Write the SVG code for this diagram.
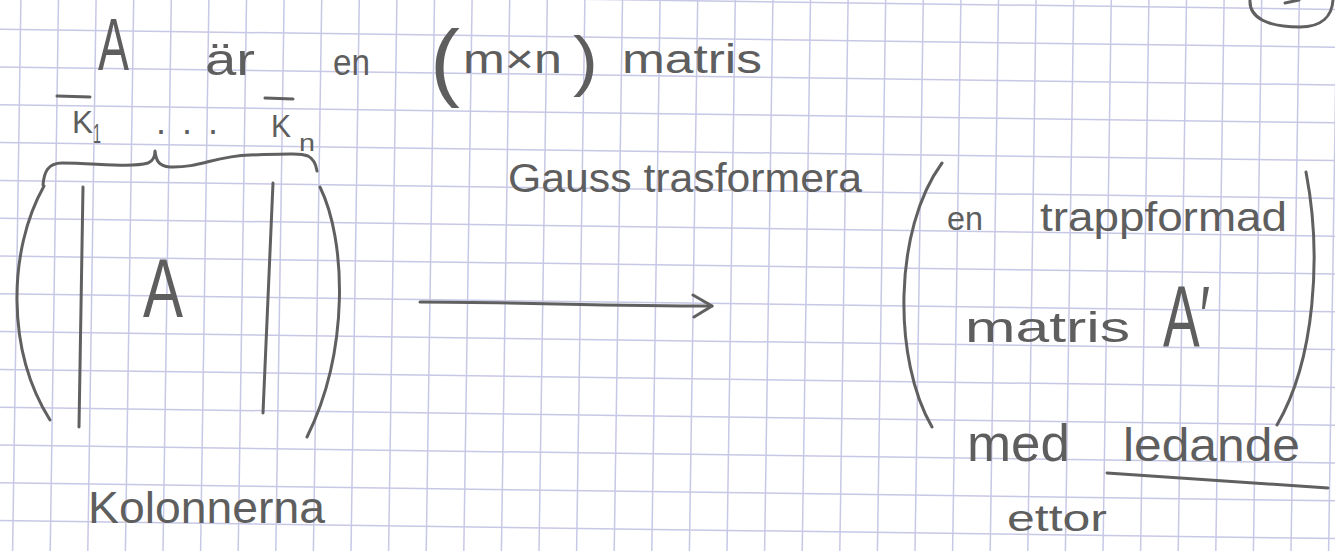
<svg xmlns="http://www.w3.org/2000/svg" width="1335" height="551" viewBox="0 0 1335 551">
<style>
.grid{fill:none;stroke:#c7c8e6;stroke-width:1.5}
.pen{fill:none;stroke:#606060;stroke-width:3;stroke-linecap:round;stroke-linejoin:round}
.hw{font-family:"Liberation Sans",Arial,sans-serif;fill:#5e5e5e}
</style>
<defs>
<marker id="chev" markerUnits="userSpaceOnUse" markerWidth="26" markerHeight="28" refX="22" refY="13" orient="auto">
<path d="M3,2 L22,13 L4,24" fill="none" stroke="#606060" stroke-width="3" stroke-linecap="round" stroke-linejoin="round"/>
</marker>
</defs>
<rect width="1335" height="551" fill="#ffffff"/>
<g id="grid">
<path class="grid" d="M20.9,0 l-8.3,551 m45.9,-551 l-8.3,551 m45.9,-551 l-8.3,551 m45.9,-551 l-8.3,551 m45.9,-551 l-8.3,551 m45.9,-551 l-8.3,551 m45.9,-551 l-8.3,551 m45.9,-551 l-8.3,551 m45.9,-551 l-8.3,551 m45.9,-551 l-8.3,551 m45.9,-551 l-8.3,551 m45.9,-551 l-8.3,551 m45.9,-551 l-8.3,551 m45.9,-551 l-8.3,551 m45.9,-551 l-8.3,551 m45.9,-551 l-8.3,551 m45.9,-551 l-8.3,551 m45.9,-551 l-8.3,551 m45.9,-551 l-8.3,551 m45.9,-551 l-8.3,551 m45.9,-551 l-8.3,551 m45.9,-551 l-8.3,551 m45.9,-551 l-8.3,551 m45.9,-551 l-8.3,551 m45.9,-551 l-8.3,551 m45.9,-551 l-8.3,551 m45.9,-551 l-8.3,551 m45.9,-551 l-8.3,551 m45.9,-551 l-8.3,551 m45.9,-551 l-8.3,551 m45.9,-551 l-8.3,551 m45.9,-551 l-8.3,551 m45.9,-551 l-8.3,551 m45.9,-551 l-8.3,551 m45.9,-551 l-8.3,551 m45.9,-551 l-8.3,551"/>
<path class="grid" d="M0,-8.6 l1335,18 m-1335,19.8 l1335,18 m-1335,19.8 l1335,18 m-1335,19.8 l1335,18 m-1335,19.8 l1335,18 m-1335,19.8 l1335,18 m-1335,19.8 l1335,18 m-1335,19.8 l1335,18 m-1335,19.8 l1335,18 m-1335,19.8 l1335,18 m-1335,19.8 l1335,18 m-1335,19.8 l1335,18 m-1335,19.8 l1335,18 m-1335,19.8 l1335,18 m-1335,19.8 l1335,18"/>
</g>
<g id="heading">
<text class="hw" x="98" y="70" font-size="74" textLength="31" lengthAdjust="spacingAndGlyphs">A</text>
<text class="hw" x="205" y="75" font-size="44" textLength="50" lengthAdjust="spacingAndGlyphs">är</text>
<text class="hw" x="333" y="75" font-size="36" textLength="37" lengthAdjust="spacingAndGlyphs">en</text>
<text class="hw" x="430" y="90" font-size="85" textLength="30" lengthAdjust="spacingAndGlyphs">(</text>
<text class="hw" x="463" y="73" font-size="40" textLength="99" lengthAdjust="spacingAndGlyphs">m×n</text>
<text class="hw" x="573" y="83" font-size="66" textLength="25" lengthAdjust="spacingAndGlyphs">)</text>
<text class="hw" x="622" y="73" font-size="40" textLength="140" lengthAdjust="spacingAndGlyphs">matris</text>
</g>
<g id="columns">
<line class="pen" x1="57" y1="96" x2="90" y2="97" stroke-width="2.5"/>
<text class="hw" x="72" y="133" font-size="32" textLength="21" lengthAdjust="spacingAndGlyphs">K</text>
<text class="hw" x="93" y="143" font-size="28" textLength="8" lengthAdjust="spacingAndGlyphs">1</text>
<text class="hw" x="156" y="134" font-size="36" textLength="62" lengthAdjust="spacing">...</text>
<line class="pen" x1="265" y1="98" x2="293" y2="99" stroke-width="2.5"/>
<text class="hw" x="271" y="137" font-size="32" textLength="20" lengthAdjust="spacingAndGlyphs">K</text>
<text class="hw" x="299" y="151" font-size="24" textLength="16" lengthAdjust="spacingAndGlyphs">n</text>
<path class="pen" d="M43,185 C44,172 48,163 62,163 C95,163 130,168 148,163 C153,161 155,156 155,151 C156,160 158,166 170,167 C200,168 215,156 250,155 C285,154 300,153 308,156 C314,159 316,164 317,171"/>
</g>
<g id="matrix-A">
<path class="pen" d="M44,186 C8,250 6,350 50,420"/>
<path class="pen" d="M83,187 L79,427" stroke-width="2.5"/>
<path class="pen" d="M273,183 L263,413" stroke-width="2.5"/>
<path class="pen" d="M320,187 C346,240 350,350 307,437"/>
<text class="hw" x="143" y="317" font-size="84" textLength="40" lengthAdjust="spacingAndGlyphs">A</text>
<text class="hw" x="88" y="523" font-size="44" textLength="237" lengthAdjust="spacingAndGlyphs">Kolonnerna</text>
</g>
<g id="gauss-label">
<text class="hw" x="508" y="192" font-size="40" textLength="354" lengthAdjust="spacingAndGlyphs">Gauss trasformera</text>
</g>
<g id="connectors">
<path class="pen" d="M420,302 C520,302 600,306 712,306" marker-end="url(#chev)"/>
</g>
<g id="matrix-A-prime">
<path class="pen" d="M942,163 C893,230 893,360 932,427"/>
<path class="pen" d="M1306,172 C1322,255 1315,360 1277,425"/>
<text class="hw" x="947" y="230" font-size="34" textLength="36" lengthAdjust="spacingAndGlyphs">en</text>
<text class="hw" x="1040" y="231" font-size="40" textLength="247" lengthAdjust="spacingAndGlyphs">trappformad</text>
<text class="hw" x="965" y="342" font-size="42" textLength="165" lengthAdjust="spacingAndGlyphs">matris</text>
<text class="hw" x="1163" y="347" font-size="88" textLength="47" lengthAdjust="spacingAndGlyphs">A′</text>
<text class="hw" x="967" y="461" font-size="52" textLength="103" lengthAdjust="spacingAndGlyphs">med</text>
<text class="hw" x="1123" y="461" font-size="46" textLength="177" lengthAdjust="spacingAndGlyphs">ledande</text>
<path class="pen" d="M1107,473 L1328,488"/>
<text class="hw" x="1007" y="531" font-size="36" textLength="100" lengthAdjust="spacingAndGlyphs">ettor</text>
</g>
<g id="corner-mark">
<path class="pen" d="M1250,0 C1249,18 1268,27 1300,27 C1322,27 1332,16 1333,0"/>
<path class="pen" d="M1285,3 L1299,0"/>
</g>
</svg>
